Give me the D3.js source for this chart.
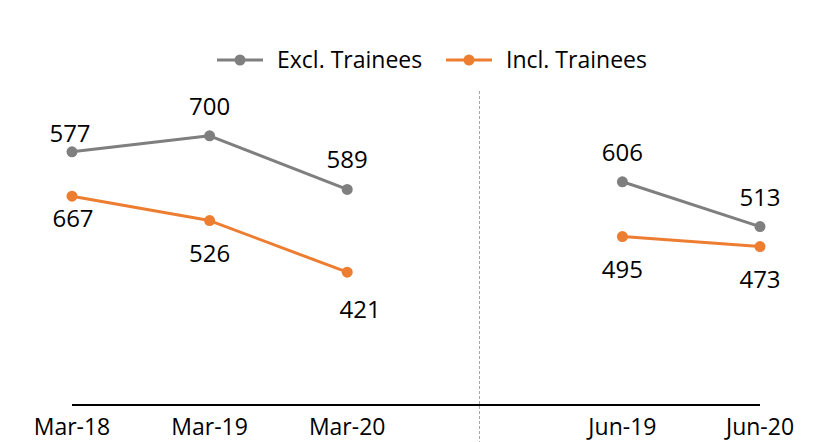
<!DOCTYPE html>
<html>
<head>
<meta charset="utf-8">
<script src="https://cdn.jsdelivr.net/npm/d3@7"></script>
<style>
  body { margin: 0; background: #fff; }
  text { font-family: "Open Sans", "Noto Sans", sans-serif; fill: #000; }
</style>
</head>
<body>
<svg id="chart"></svg>
<script>
// categories ("" is the empty slot where the dashed separator sits)
const categories = ["Mar-18", "Mar-19", "Mar-20", "", "Jun-19", "Jun-20"];

// plotted values (null = no point)
const exclValues = [633, 673, 539, null, 558, 446];
const inclValues = [522, 461, 332, null, 421, 396];

// data labels printed next to each point
const exclLabels = ["577", "700", "589", null, "606", "513"];
const inclLabels = ["667", "526", "421", null, "495", "473"];

const seriesNames = ["Excl. Trainees", "Incl. Trainees"];

((() => {

  var width = 813;
  var height = 442;

  var grey = "#7f7f7f";
  var orange = "#ed7d31";

  var svg = d3.select("#chart")
    .attr("width", width)
    .attr("height", height);

  // x is a point scale over the slots, y maps the plotted values
  var x = d3.scalePoint()
    .domain(d3.range(categories.length))
    .range([72, 760]);

  var y = d3.scaleLinear()
    .domain([0, 800])
    .range([405, 85]);

  // small manual nudges on some labels, like in the original
  var labelNudge = {
    "excl-0": [-2, 11],
    "incl-0": [1, -10],
    "incl-2": [13, 5]
  };

  // category axis: line only from first to last category
  svg.append("line")
    .attr("x1", x(0)).attr("x2", x(categories.length - 1))
    .attr("y1", y(0)).attr("y2", y(0))
    .attr("stroke", "#000")
    .attr("stroke-width", 2);

  svg.append("g")
    .selectAll("text")
    .data(categories)
    .enter()
    .append("text")
    .attr("x", (d, i) => x(i))
    .attr("y", 435)
    .attr("text-anchor", "middle")
    .attr("font-size", "23px")
    .text(d => d);

  // dashed separator between the two periods
  svg.append("line")
    .attr("x1", 479.5).attr("x2", 479.5)
    .attr("y1", 91).attr("y2", height)
    .attr("stroke", "#a6a6a6")
    .attr("stroke-width", 1)
    .attr("stroke-dasharray", "3,2");

  var line = d3.line()
    .defined(d => d.v != null)
    .x(d => x(d.i))
    .y(d => y(d.v));

  function drawSeries(values, labels, color, key, above) {
    var pts = values.map((v, i) => ({ v: v, i: i, label: labels[i] }));
    var g = svg.append("g");

    // the null slot breaks the line into two pieces
    g.append("path")
      .datum(pts)
      .attr("d", line)
      .attr("fill", "none")
      .attr("stroke", color)
      .attr("stroke-width", 3)
      .attr("stroke-linejoin", "round");

    var real = pts.filter(d => d.v != null);

    g.selectAll("circle")
      .data(real)
      .enter()
      .append("circle")
      .attr("cx", d => x(d.i))
      .attr("cy", d => y(d.v))
      .attr("r", 5.5)
      .attr("fill", color);

    g.selectAll("text")
      .data(real)
      .enter()
      .append("text")
      .attr("x", d => x(d.i) + (labelNudge[key + "-" + d.i] || [0, 0])[0])
      .attr("y", d => y(d.v) + (above ? -21 : 41) + (labelNudge[key + "-" + d.i] || [0, 0])[1])
      .attr("text-anchor", "middle")
      .attr("font-size", "24px")
      .text(d => d.label);
  }

  drawSeries(exclValues, exclLabels, grey, "excl", true);
  drawSeries(inclValues, inclLabels, orange, "incl", false);

  // legend
  var legend = svg.append("g");
  var legendItems = [
    { name: seriesNames[0], color: grey, x: 217 },
    { name: seriesNames[1], color: orange, x: 446 }
  ];

  legendItems.forEach(function (it) {
    legend.append("line")
      .attr("x1", it.x).attr("x2", it.x + 46)
      .attr("y1", 60).attr("y2", 60)
      .attr("stroke", it.color)
      .attr("stroke-width", 3);
    legend.append("circle")
      .attr("cx", it.x + 23).attr("cy", 60)
      .attr("r", 5.5)
      .attr("fill", it.color);
    legend.append("text")
      .attr("x", it.x + 60)
      .attr("y", 68)
      .attr("font-size", "23px")
      .text(it.name);
  });

})());
</script>
</body>
</html>
